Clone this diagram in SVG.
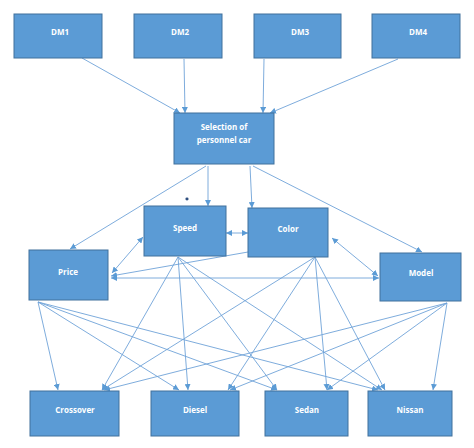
<svg xmlns="http://www.w3.org/2000/svg" width="474" height="448" viewBox="0 0 474 448">
<defs>
<style>
.box{fill:#5B9BD5;stroke:#41719C;stroke-width:1}
.lbl{fill:#ffffff;font-family:"Open Sans","Liberation Sans",sans-serif;font-weight:bold;font-size:8px;text-anchor:middle}
.c line{stroke:#6FA3D8;stroke-width:0.9;fill:none}
</style>
<marker id="ah" viewBox="0 0 10 10" refX="10" refY="5" markerWidth="6" markerHeight="6" markerUnits="userSpaceOnUse" orient="auto-start-reverse">
<path d="M0,0 L10,5 L0,10 z" fill="#5B9BD5"/>
</marker>
</defs>
<rect width="474" height="448" fill="#ffffff"/>
<g class="c" id="connectors">
<line x1="82" y1="58" x2="180" y2="113" marker-end="url(#ah)"/>
<line x1="184" y1="59" x2="185" y2="113" marker-end="url(#ah)"/>
<line x1="264" y1="59" x2="263" y2="113" marker-end="url(#ah)"/>
<line x1="398" y1="59" x2="270" y2="113" marker-end="url(#ah)"/>
<line x1="206" y1="166" x2="70" y2="249" marker-end="url(#ah)"/>
<line x1="208" y1="166" x2="208" y2="206" marker-end="url(#ah)"/>
<line x1="250" y1="166" x2="252" y2="208" marker-end="url(#ah)"/>
<line x1="253" y1="166" x2="422" y2="252" marker-end="url(#ah)"/>
<line x1="226" y1="233" x2="248" y2="233" marker-start="url(#ah)" marker-end="url(#ah)"/>
<line x1="112" y1="273" x2="143" y2="237" marker-start="url(#ah)" marker-end="url(#ah)"/>
<line x1="248" y1="252" x2="111" y2="276" marker-end="url(#ah)"/>
<line x1="111" y1="278" x2="379" y2="278" marker-start="url(#ah)" marker-end="url(#ah)"/>
<line x1="332" y1="238" x2="378" y2="276" marker-start="url(#ah)" marker-end="url(#ah)"/>
<line x1="38" y1="302" x2="58" y2="390" marker-end="url(#ah)"/>
<line x1="38" y1="302" x2="179" y2="390" marker-end="url(#ah)"/>
<line x1="38" y1="302" x2="277" y2="390" marker-end="url(#ah)"/>
<line x1="38" y1="302" x2="378" y2="390" marker-end="url(#ah)"/>
<line x1="178" y1="257" x2="102" y2="390" marker-end="url(#ah)"/>
<line x1="178" y1="257" x2="188" y2="390" marker-end="url(#ah)"/>
<line x1="178" y1="257" x2="277" y2="390" marker-end="url(#ah)"/>
<line x1="178" y1="257" x2="382" y2="390" marker-end="url(#ah)"/>
<line x1="315" y1="257" x2="102" y2="390" marker-end="url(#ah)"/>
<line x1="315" y1="257" x2="228" y2="390" marker-end="url(#ah)"/>
<line x1="315" y1="257" x2="327" y2="390" marker-end="url(#ah)"/>
<line x1="315" y1="257" x2="385" y2="390" marker-end="url(#ah)"/>
<line x1="447" y1="303" x2="104" y2="390" marker-end="url(#ah)"/>
<line x1="447" y1="303" x2="230" y2="390" marker-end="url(#ah)"/>
<line x1="447" y1="303" x2="327" y2="390" marker-end="url(#ah)"/>
<line x1="447" y1="303" x2="433" y2="390" marker-end="url(#ah)"/>
</g>
<ellipse cx="187" cy="199" rx="1.6" ry="1.4" fill="#2F4F7F"/>
<g id="dm1"><rect class="box" x="14" y="14" width="88" height="44"/><text class="lbl" x="60" y="35">DM1</text></g>
<g id="dm2"><rect class="box" x="134" y="14" width="88" height="44"/><text class="lbl" x="180" y="35">DM2</text></g>
<g id="dm3"><rect class="box" x="254" y="14" width="87" height="44"/><text class="lbl" x="300" y="35">DM3</text></g>
<g id="dm4"><rect class="box" x="372" y="14" width="88" height="44"/><text class="lbl" x="418" y="35">DM4</text></g>
<g id="selection"><rect class="box" x="174" y="113" width="100" height="51"/><text class="lbl" x="224" y="130">Selection of</text><text class="lbl" x="224" y="143">personnel car</text></g>
<g id="speed"><rect class="box" x="144" y="206" width="82" height="50"/><text class="lbl" x="185" y="231">Speed</text></g>
<g id="color"><rect class="box" x="248" y="208" width="80" height="49"/><text class="lbl" x="288" y="232">Color</text></g>
<g id="price"><rect class="box" x="29" y="250" width="79" height="50"/><text class="lbl" x="68" y="275">Price</text></g>
<g id="model"><rect class="box" x="380" y="253" width="81" height="48"/><text class="lbl" x="421" y="276">Model</text></g>
<g id="crossover"><rect class="box" x="30" y="391" width="89" height="45"/><text class="lbl" x="75" y="413">Crossover</text></g>
<g id="diesel"><rect class="box" x="151" y="391" width="88" height="45"/><text class="lbl" x="195" y="413">Diesel</text></g>
<g id="sedan"><rect class="box" x="265" y="391" width="83" height="45"/><text class="lbl" x="307" y="413">Sedan</text></g>
<g id="nissan"><rect class="box" x="368" y="391" width="84" height="45"/><text class="lbl" x="410" y="413">Nissan</text></g>
</svg>
